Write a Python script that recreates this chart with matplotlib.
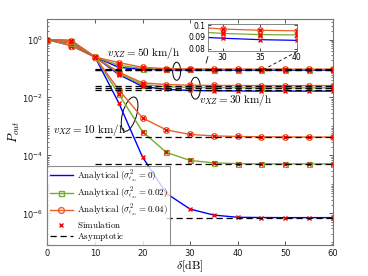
import matplotlib
matplotlib.use("Agg")
import matplotlib.pyplot as plt
from matplotlib.patches import Ellipse
from matplotlib.lines import Line2D
from matplotlib.ticker import FixedLocator, LogLocator, NullFormatter, FixedFormatter

plt.rcParams["mathtext.fontset"] = "cm"
plt.rcParams["font.family"] = ["DejaVu Sans"]

delta = [0, 5, 10, 15, 20, 25, 30, 35, 40, 45, 50, 55, 60]

# v_XZ = 10 km/h
v10_s0 = [1.0, 0.62, 0.25, 6.5e-3, 8.7e-5, 4.9e-6, 1.4e-6, 8.7e-7, 7.3e-7, 7.15e-7, 7.1e-7, 7.1e-7, 7.1e-7]
v10_s2 = [1.0, 0.62, 0.25, 1.3e-2, 6.6e-4, 1.27e-4, 6.7e-5, 5.5e-5, 5.2e-5, 5.1e-5, 5.1e-5, 5.1e-5, 5.1e-5]
v10_s4 = [1.0, 0.62, 0.25, 1.84e-2, 1.97e-3, 7.6e-4, 5.3e-4, 4.7e-4, 4.5e-4, 4.4e-4, 4.35e-4, 4.3e-4, 4.3e-4]
# v_XZ = 30 km/h
v30_s0 = [1.0, 0.77, 0.25, 0.062, 0.024, 0.019, 0.0175, 0.017, 0.0168, 0.0166, 0.0166, 0.0166, 0.0166]
v30_s2 = [1.0, 0.77, 0.25, 0.068, 0.028, 0.0235, 0.0222, 0.0218, 0.0216, 0.0215, 0.0215, 0.0215, 0.0215]
v30_s4 = [1.0, 0.77, 0.25, 0.075, 0.032, 0.028, 0.0265, 0.026, 0.0258, 0.0257, 0.0257, 0.0257, 0.0257]
# v_XZ = 50 km/h
v50_s0 = [1.0, 0.92, 0.25, 0.11, 0.093, 0.0905, 0.0889, 0.0877, 0.0871, 0.087, 0.087, 0.087, 0.087]
v50_s2 = [1.0, 0.92, 0.25, 0.13, 0.1, 0.095, 0.093, 0.092, 0.0917, 0.0915, 0.0914, 0.0914, 0.0914]
v50_s4 = [1.0, 0.92, 0.25, 0.16, 0.11, 0.099, 0.0967, 0.0957, 0.0952, 0.095, 0.0949, 0.0949, 0.0949]

# asymptotic floors and where their dashed lines start
asym_levels = [7.1e-7, 5.1e-5, 4.3e-4, 0.0178, 0.0215, 0.0255, 0.087, 0.0912, 0.095]
asym_start = [25, 10, 10, 10, 10, 10, 10, 10, 10]

inset_ticks_x = [30, 35, 40]
inset_ticks_y = [0.08, 0.09, 0.1]
inset_labels_y = ["0.08", "0.09", "0.1"]

BLUE = "#0000ff"
GREEN = "#77ac30"
ORANGE = "#e8602c"
RED = "#ff0000"

groups = [(v10_s0, v10_s2, v10_s4), (v30_s0, v30_s2, v30_s4), (v50_s0, v50_s2, v50_s4)]


def draw_curves(ax, lw=1.0, ms=4.2):
    for s0, s2, s4 in groups:
        ax.plot(delta, s0, color=BLUE, lw=lw)
        ax.plot(delta, s2, color=GREEN, lw=lw, marker="s", ms=ms - 0.6, mfc="none", mew=0.8)
        ax.plot(delta, s4, color=ORANGE, lw=lw, marker="o", ms=ms, mfc="none", mew=0.8)
        for s in (s0, s2, s4):
            ax.plot(delta, s, ls="none", marker="x", color=RED, ms=ms - 1, mew=1.0)


fig = plt.figure(figsize=(3.68, 2.76), dpi=100)
ax = fig.add_axes([0.129, 0.112, 0.775, 0.818])
draw_curves(ax)
for lev, x0 in zip(asym_levels, asym_start):
    ax.plot([x0, delta[-1]], [lev, lev], color="k", lw=0.9, ls=(0, (5, 3)))

ax.set_yscale("log")
ax.set_xlim(0, 60)
ax.set_ylim(8e-8, 5)
ax.set_xticks([0, 10, 20, 30, 40, 50, 60])
ax.yaxis.set_major_locator(FixedLocator([1e0, 1e-2, 1e-4, 1e-6]))
ax.yaxis.set_minor_locator(LogLocator(base=10, subs=[1, 2, 3, 4, 5, 6, 7, 8, 9], numticks=20))
ax.yaxis.set_minor_formatter(NullFormatter())
ax.tick_params(which="both", direction="in", top=True, right=True, labelsize=6,
               colors="0.25", labelcolor="0.1", pad=3)
ax.tick_params(which="major", length=3, width=0.6)
ax.tick_params(which="minor", length=1.5, width=0.5)
for sp in ax.spines.values():
    sp.set_color("0.45")
    sp.set_linewidth(0.8)

ax.set_xlabel(r"$\delta[\mathrm{dB}]$", fontsize=8.5, labelpad=0)
ax.set_ylabel(r"$P_{out}$", fontsize=9)
ax.yaxis.set_label_coords(-0.09, 0.5)

ax.text(0.209, 0.85, r"$v_{XZ}=50\ \mathrm{km/h}$", transform=ax.transAxes,
        fontsize=8, va="center", ha="left")
ax.text(0.532, 0.642, r"$v_{XZ}=30\ \mathrm{km/h}$", transform=ax.transAxes,
        fontsize=8, va="center", ha="left")
ax.text(0.019, 0.509, r"$v_{XZ}=10\ \mathrm{km/h}$", transform=ax.transAxes,
        fontsize=8, va="center", ha="left")

for cx, cy, w, h, ang in [(0.453, 0.770, 0.028, 0.080, 0),
                          (0.519, 0.695, 0.035, 0.097, 0),
                          (0.288, 0.580, 0.050, 0.155, -12)]:
    ax.add_patch(Ellipse((cx, cy), w, h, angle=ang, transform=ax.transAxes,
                         fill=False, ec="k", lw=0.7))

handles = [
    Line2D([], [], color=BLUE, lw=1.0),
    Line2D([], [], color=GREEN, lw=1.0, marker="s", ms=3.6, mfc="none"),
    Line2D([], [], color=ORANGE, lw=1.0, marker="o", ms=4.2, mfc="none"),
    Line2D([], [], ls="none", marker="x", color=RED, ms=3.2, mew=1.0),
    Line2D([], [], color="k", lw=0.9, ls=(0, (5, 3))),
]
labels = [
    r"$\mathrm{Analytical}\ (\sigma^2_{\epsilon_{xz}}=0)$",
    r"$\mathrm{Analytical}\ (\sigma^2_{\epsilon_{xz}}=0.02)$",
    r"$\mathrm{Analytical}\ (\sigma^2_{\epsilon_{xz}}=0.04)$",
    r"$\mathrm{Simulation}$",
    r"$\mathrm{Asymptotic}$",
]
leg = ax.legend(handles, labels, loc="lower left", fontsize=6.5, frameon=True,
                fancybox=False, borderpad=0.25, labelspacing=0.05, handlelength=2.6,
                handletextpad=0.4, borderaxespad=0.0)
leg.get_frame().set_edgecolor("0.45")
leg.get_frame().set_linewidth(0.8)

# zoomed inset around the 50 km/h curves
axin = fig.add_axes([0.565, 0.815, 0.242, 0.098])
draw_curves(axin, lw=0.9, ms=4.0)
axin.set_xlim(28, 40)
axin.set_ylim(0.078, 0.101)
axin.set_xticks(inset_ticks_x)
axin.yaxis.set_major_locator(FixedLocator(inset_ticks_y))
axin.yaxis.set_major_formatter(FixedFormatter(inset_labels_y))
axin.tick_params(direction="in", labelsize=5.5, length=2, width=0.5, pad=1.5,
                 top=True, right=True)
for sp in axin.spines.values():
    sp.set_color("0.45")
    sp.set_linewidth(0.6)

fig.add_artist(Line2D([0.807, 0.712], [0.813, 0.745], transform=fig.transFigure,
                      color="k", lw=0.6, ls=(0, (4, 3))))
fig.add_artist(Line2D([0.565, 0.560], [0.795, 0.772], transform=fig.transFigure,
                      color="k", lw=0.6))

fig.savefig("out.png", dpi=100)
